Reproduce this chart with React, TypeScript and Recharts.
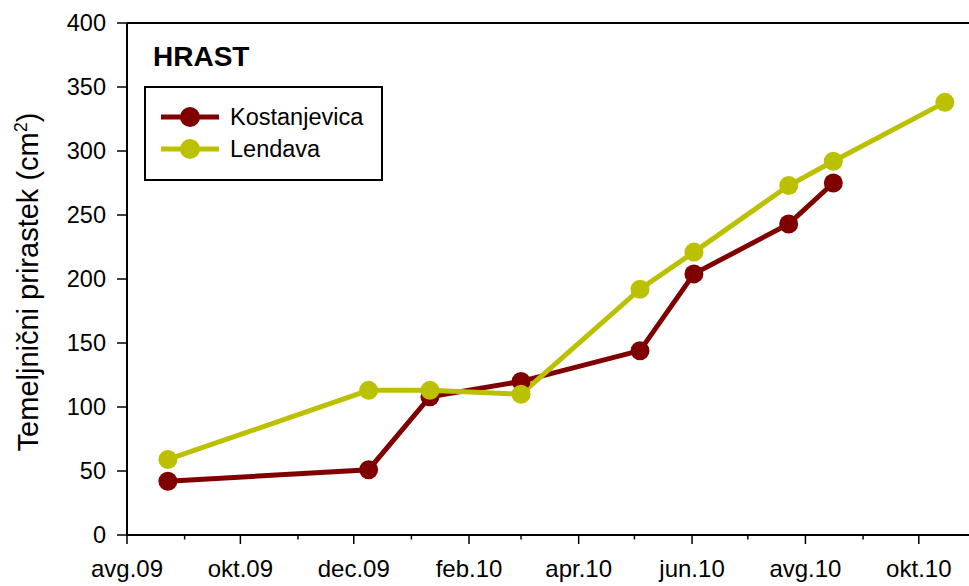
import React from "react";
import {
  LineChart,
  Line,
  XAxis,
  YAxis,
  ReferenceLine,
  Legend,
} from "recharts";

// sampling dates (both plots measured on the same days, Lendava once more)
const sampleDates = [
  "2009-08-23",
  "2009-12-09",
  "2010-01-11",
  "2010-03-01",
  "2010-05-04",
  "2010-06-02",
  "2010-07-23",
  "2010-08-16",
  "2010-10-15",
];
const kostanjevica = [42, 51, 108, 120, 144, 204, 243, 275];
const lendava = [59, 113, 113, 110, 192, 221, 273, 292, 338];

const monthStarts = [
  "2009-08-01", "2009-09-01", "2009-10-01", "2009-11-01", "2009-12-01",
  "2010-01-01", "2010-02-01", "2010-03-01", "2010-04-01", "2010-05-01",
  "2010-06-01", "2010-07-01", "2010-08-01", "2010-09-01", "2010-10-01",
];
const monthLabels = [
  "avg.09", "", "okt.09", "", "dec.09", "", "feb.10", "",
  "apr.10", "", "jun.10", "", "avg.10", "", "okt.10",
];
const yTicks = [0, 50, 100, 150, 200, 250, 300, 350, 400];

const KOST = "#800000";
const LEND = "#BBC100";
const FONT = '"Liberation Sans", Arial, sans-serif';

const ORIGIN = Date.UTC(2009, 7, 1);
const toDay = (s: string) => {
  const [y, m, d] = s.split("-").map(Number);
  return (Date.UTC(y, m - 1, d) - ORIGIN) / 86400000;
};

const kostData = kostanjevica.map((v, i) => ({ day: toDay(sampleDates[i]), value: v }));
const lendData = lendava.map((v, i) => ({ day: toDay(sampleDates[i]), value: v }));
const xTicks = monthStarts.map(toDay);

function MonthTick(props: any) {
  const { x, y, payload } = props;
  const idx = xTicks.indexOf(payload.value);
  const label = monthLabels[idx] ?? "";
  const major = label !== "";
  return (
    <g>
      <line x1={x} x2={x} y1={y} y2={y + (major ? 9 : 4.5)} stroke="#000" strokeWidth={1.5} />
      {major && (
        <text x={x} y={y + 42} textAnchor="middle" fontSize={24} fontFamily={FONT} fill="#000">
          {label}
        </text>
      )}
    </g>
  );
}

function YTitle() {
  return (
    <text
      x={38}
      y={282}
      transform="rotate(-90 38 282)"
      textAnchor="middle"
      fontSize={29}
      fontFamily={FONT}
      fill="#000"
    >
      Temeljnični prirastek (cm
      <tspan dy={-11} fontSize={18}>2</tspan>
      <tspan dy={11}>)</tspan>
    </text>
  );
}

function LegendBox() {
  const rows = [
    { name: "Kostanjevica", color: KOST },
    { name: "Lendava", color: LEND },
  ];
  return (
    <div
      style={{
        width: "100%",
        height: "100%",
        boxSizing: "border-box",
        border: "2px solid #000",
        paddingTop: 13,
        fontFamily: FONT,
        background: "#fff",
      }}
    >
      {rows.map((r) => (
        <div key={r.name} style={{ display: "flex", alignItems: "center", height: 32 }}>
          <svg width={60} height={24} style={{ marginLeft: 14 }}>
            <line x1={1} x2={59} y1={12} y2={12} stroke={r.color} strokeWidth={5} />
            <circle cx={30} cy={12} r={10} fill={r.color} />
          </svg>
          <span style={{ marginLeft: 10, fontSize: 23.5, color: "#000" }}>{r.name}</span>
        </div>
      ))}
    </div>
  );
}

export default function App() {
  return (
    <div style={{ position: "absolute", left: 0, top: 0, width: 969, height: 586, background: "#fff" }}>
      <LineChart
        width={969}
        height={586}
        margin={{ top: 23, right: 0, bottom: 0, left: 0 }}
      >
        <XAxis
          type="number"
          dataKey="day"
          domain={[0, 453]}
          ticks={xTicks}
          interval={0}
          allowDataOverflow
          tickSize={0}
          tickMargin={0}
          tickLine={false}
          tick={<MonthTick />}
          height={51}
          axisLine={{ stroke: "#000", strokeWidth: 2 }}
        />
        <YAxis
          type="number"
          domain={[0, 400]}
          ticks={yTicks}
          interval={0}
          width={127}
          tickSize={10}
          tickMargin={11}
          tickLine={{ stroke: "#000", strokeWidth: 1.5 }}
          axisLine={{ stroke: "#000", strokeWidth: 2 }}
          tick={{ fontSize: 23.5, fill: "#000", fontFamily: FONT }}
          label={<YTitle />}
        />
        <ReferenceLine y={400} stroke="#000" strokeWidth={2} />
        <Legend
          layout="vertical"
          align="center"
          verticalAlign="middle"
          wrapperStyle={{ position: "absolute", left: 144, top: 86, width: 239, height: 95 }}
          content={() => <LegendBox />}
        />
        <Line
          data={kostData}
          dataKey="value"
          name="Kostanjevica"
          stroke={KOST}
          strokeWidth={5}
          dot={{ r: 9.5, fill: KOST, stroke: KOST, strokeWidth: 0 }}
          activeDot={false}
          isAnimationActive={false}
        />
        <Line
          data={lendData}
          dataKey="value"
          name="Lendava"
          stroke={LEND}
          strokeWidth={5}
          dot={{ r: 9.5, fill: LEND, stroke: LEND, strokeWidth: 0 }}
          activeDot={false}
          isAnimationActive={false}
        />
      </LineChart>
      <div
        style={{
          position: "absolute",
          left: 153,
          top: 43,
          fontFamily: FONT,
          fontWeight: "bold",
          fontSize: 28,
          lineHeight: "28px",
          color: "#000",
        }}
      >
        HRAST
      </div>
    </div>
  );
}
